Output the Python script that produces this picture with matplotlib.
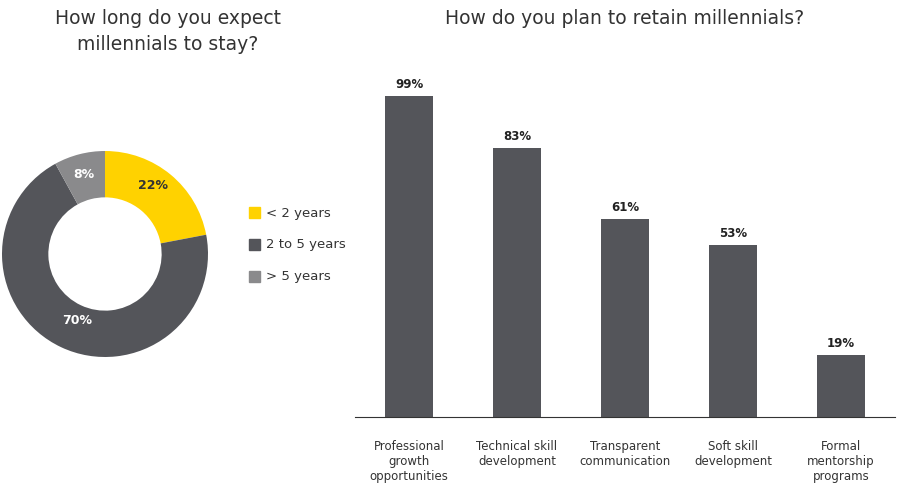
import matplotlib
matplotlib.use("Agg")
import matplotlib.pyplot as plt
from matplotlib.patches import Rectangle

# donut data
stay_labels = ["< 2 years", "2 to 5 years", "> 5 years"]
stay_values = [22, 70, 8]
stay_colors = ["#FFD200", "#54555A", "#8A8A8C"]

# bar data
retain_labels = ["Professional\ngrowth\nopportunities", "Technical skill\ndevelopment",
                 "Transparent\ncommunication", "Soft skill\ndevelopment",
                 "Formal\nmentorship\nprograms"]
retain_values = [99, 83, 61, 53, 19]

W, H = 900, 485
fig = plt.figure(figsize=(9, 4.85), dpi=100)

# donut
r = 103
cx, cy = 105, 255
axp = fig.add_axes([(cx - r) / W, (H - cy - r) / H, 2 * r / W, 2 * r / H])
wedges, _ = axp.pie(stay_values, colors=stay_colors, startangle=90, counterclock=False,
                    wedgeprops=dict(width=0.45, edgecolor="white", linewidth=0))
axp.set_xlim(-1, 1)
axp.set_ylim(-1, 1)
label_pos = [(153, 186), (77, 321), (84, 175)]
for (x, y), v in zip(label_pos, stay_values):
    fig.text(x / W, 1 - y / H, f"{v}%", ha="center", va="center", fontsize=9,
             fontweight="bold", color="white" if v != 22 else "#333333")

fig.text(168 / W, 1 - 18 / H, "How long do you expect", ha="center", va="center", fontsize=13.5, color="#333333")
fig.text(168 / W, 1 - 44 / H, "millennials to stay?", ha="center", va="center", fontsize=13.5, color="#333333")

# legend
for i, (lab, c) in enumerate(zip(stay_labels, stay_colors)):
    y = 213 + 32 * i
    fig.patches.append(Rectangle((249 / W, 1 - (y + 6) / H), 11 / W, 11 / H,
                                 transform=fig.transFigure, color=c))
    fig.text(266 / W, 1 - y / H, lab, ha="left", va="center", fontsize=9.5, color="#333333")

# bars
axb = fig.add_axes([355 / W, (H - 418) / H, 540 / W, 324 / H])
x = list(range(len(retain_values)))
bars = axb.bar(x, retain_values, width=0.45, color="#54555A")
for b, v in zip(bars, retain_values):
    axb.text(b.get_x() + b.get_width() / 2, v + 2, f"{v}%", ha="center", va="bottom",
             fontsize=8.5, fontweight="bold", color="#222222")
axb.set_xlim(-0.5, 4.5)
axb.set_ylim(0, 100)
axb.set_xticks(x)
axb.set_xticklabels(retain_labels, fontsize=8.5, color="#333333")
axb.tick_params(axis="x", length=0, pad=16)
axb.set_yticks([])
for s in ["top", "right", "left"]:
    axb.spines[s].set_visible(False)
axb.spines["bottom"].set_color("#333333")
fig.text(625 / W, 1 - 18 / H, "How do you plan to retain millennials?", ha="center",
         va="center", fontsize=13.5, color="#333333")

fig.savefig("out.png", dpi=100)
